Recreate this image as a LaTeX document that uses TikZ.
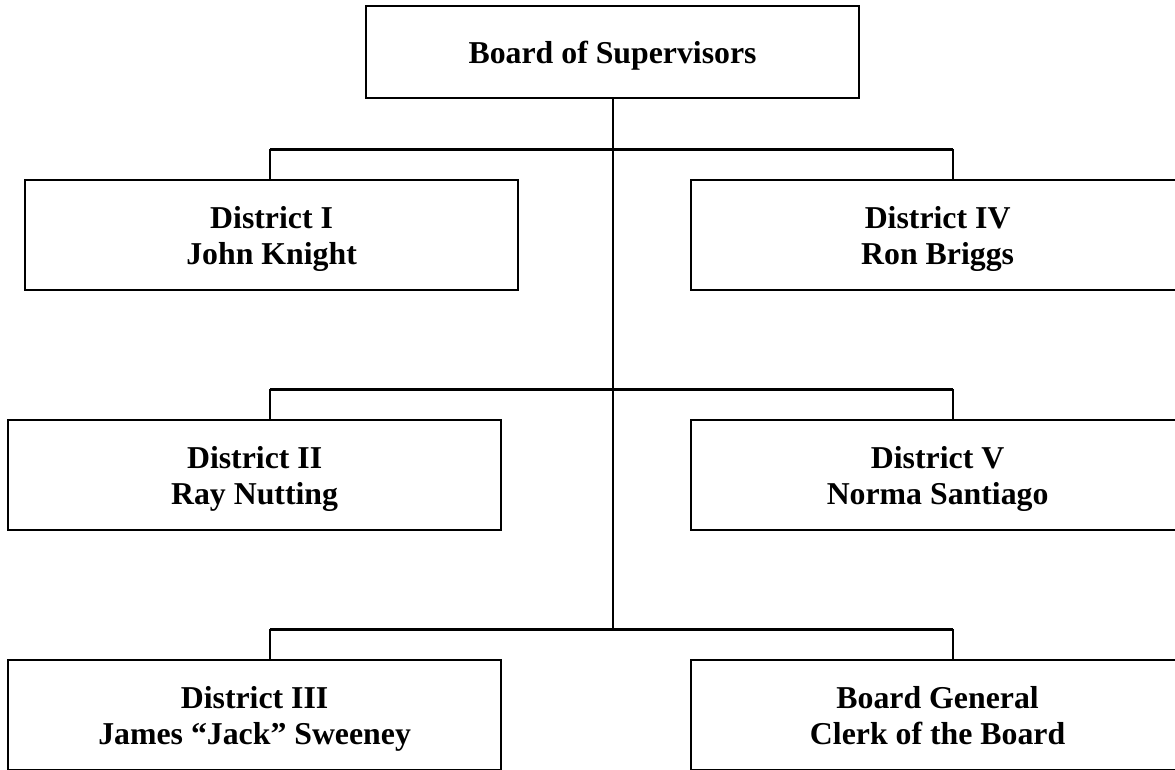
\documentclass[tikz,border=0pt]{standalone}
\usepackage{fontspec}
\setmainfont{Liberation Serif}
\newcommand\hiline{\rule{0pt}{33pt}}
\newcommand\loline{\rule[-11pt]{0pt}{11pt}}
\begin{document}
\begin{tikzpicture}[x=1pt,y=-1pt,
  box/.style={draw, line width=2.2pt, minimum width=493pt, minimum height=110pt,
    inner sep=0pt, align=center, anchor=north west,
    font=\fontsize{31.8}{36}\selectfont\bfseries},
  hline/.style={line width=3pt},
  vline/.style={line width=2.2pt}]
\useasboundingbox (0,0) rectangle (1175,769);
\clip (0,0) rectangle (1175,769);

\node[box, minimum height=92pt] (top) at (365,5) {\hiline Board of Supervisors\loline};
\node[box] (d1) at (24,179) {\hiline District I\\John Knight\loline};
\node[box] (d4) at (690,179) {\hiline District IV\\Ron Briggs\loline};
\node[box] (d2) at (7,419) {\hiline District II\\Ray Nutting\loline};
\node[box] (d5) at (690,419) {\hiline District V\\Norma Santiago\loline};
\node[box] (d3) at (7,659) {\hiline District III\\James “Jack” Sweeney\loline};
\node[box] (bg) at (690,659) {\hiline Board General\\Clerk of the Board\loline};

\coordinate (l1) at (270,149); \coordinate (r1) at (953,149);
\coordinate (l2) at (270,389); \coordinate (r2) at (953,389);
\coordinate (l3) at (270,629); \coordinate (r3) at (953,629);
\coordinate (t3) at (top.south |- l3);

\draw[vline] (top.south) -- (t3);
\draw[hline] (l1) -- (r1);
\draw[hline] (l2) -- (r2);
\draw[hline] (l3) -- (r3);
\draw[vline] (l1) -- (l1 |- d1.north);
\draw[vline] (r1) -- (r1 |- d4.north);
\draw[vline] (l2) -- (l2 |- d2.north);
\draw[vline] (r2) -- (r2 |- d5.north);
\draw[vline] (l3) -- (l3 |- d3.north);
\draw[vline] (r3) -- (r3 |- bg.north);
\end{tikzpicture}
\end{document}
